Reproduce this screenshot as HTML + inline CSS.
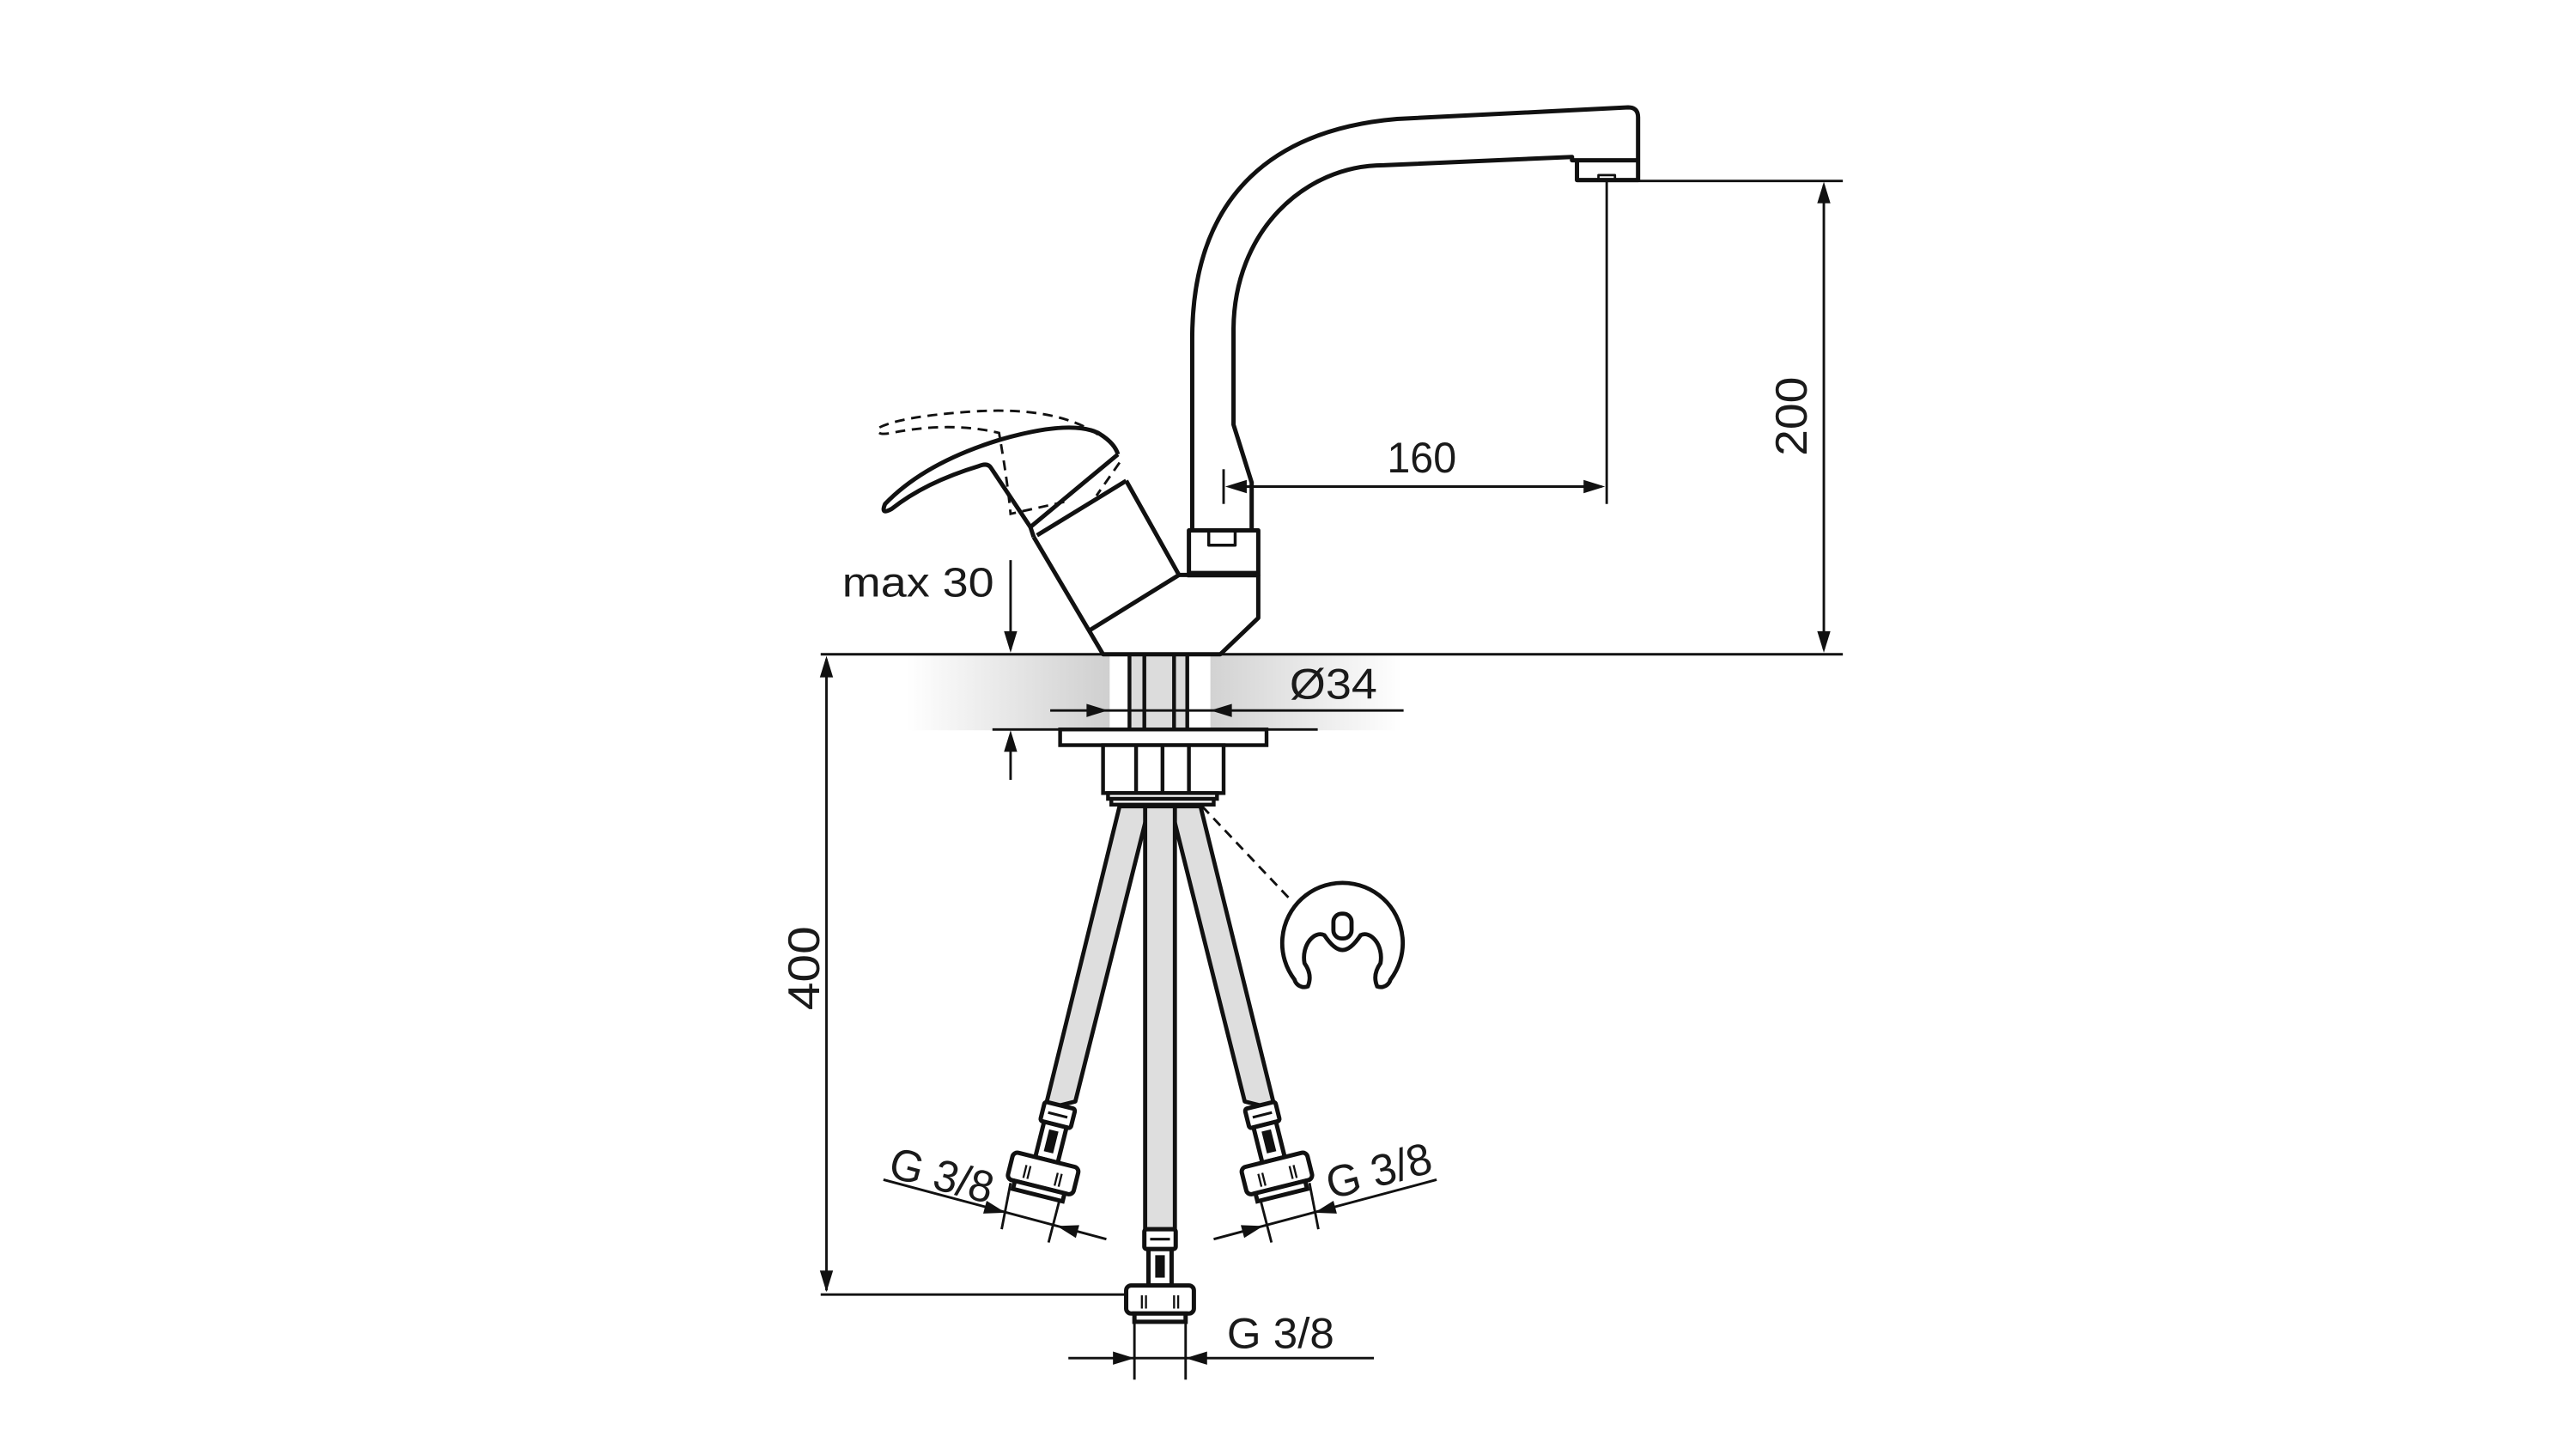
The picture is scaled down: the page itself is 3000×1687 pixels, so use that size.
<!DOCTYPE html>
<html><head><meta charset="utf-8"><style>
html,body{margin:0;padding:0;background:#fff;}
svg{display:block;}
text{font-family:"Liberation Sans",sans-serif;fill:#1a1a1a;}
</style></head><body>
<svg width="3000" height="1687" viewBox="0 0 1560 877" preserveAspectRatio="none" xmlns="http://www.w3.org/2000/svg">
<defs>
<linearGradient id="gl" x1="0" y1="0" x2="1" y2="0"><stop offset="0" stop-color="#fff"/><stop offset="1" stop-color="#cfcfcf"/></linearGradient>
<linearGradient id="gr" x1="0" y1="0" x2="1" y2="0"><stop offset="0" stop-color="#d2d2d2"/><stop offset="1" stop-color="#fff"/></linearGradient>
<g id="conn" stroke="#111" stroke-width="2.6" fill="#fff">
  <rect x="-9.5" y="0" width="19" height="12" rx="1.5"/>
  <line x1="-6" y1="6" x2="6" y2="6" stroke-width="1.6"/>
  <path d="M-7,12 L-7,34 L7,34 L7,12 Z"/>
  <rect x="-1.6" y="17" width="3.2" height="11" fill="#111"/>
  <rect x="-20.5" y="34" width="41" height="17" rx="3"/>
  <line x1="-11" y1="40" x2="-11" y2="48" stroke-width="1.2"/><line x1="-8.5" y1="40" x2="-8.5" y2="48" stroke-width="1.2"/>
  <line x1="8.5" y1="40" x2="8.5" y2="48" stroke-width="1.2"/><line x1="11" y1="40" x2="11" y2="48" stroke-width="1.2"/>
  <rect x="-15.5" y="51" width="31" height="5"/>
</g>
</defs>

<rect x="549" y="396" width="123" height="46" fill="url(#gl)"/>
<rect x="683" y="396" width="37" height="46" fill="#dcdcdc"/>
<rect x="733" y="396" width="116" height="46" fill="url(#gr)"/>

<g stroke="#111" stroke-width="1.5" fill="none">
  <line x1="497" y1="396" x2="1116" y2="396"/>
  <line x1="601" y1="441.5" x2="798" y2="441.5"/>
  <line x1="955" y1="109.5" x2="1116" y2="109.5"/>
  <line x1="1104.5" y1="112" x2="1104.5" y2="393"/>
  <line x1="973" y1="110" x2="973" y2="305"/>
  <line x1="741" y1="284" x2="741" y2="305"/>
  <line x1="745" y1="294.5" x2="970" y2="294.5"/>
  <line x1="612" y1="339" x2="612" y2="393"/>
  <line x1="612" y1="445" x2="612" y2="472"/>
  <line x1="636" y1="430" x2="850" y2="430"/>
  <line x1="500.5" y1="399" x2="500.5" y2="781"/>
  <line x1="497" y1="783.5" x2="690" y2="783.5"/>
  <line x1="687" y1="800" x2="687" y2="835"/>
  <line x1="718" y1="800" x2="718" y2="835"/>
  <line x1="647" y1="822" x2="832" y2="822"/>
  <line x1="612" y1="716" x2="606.6" y2="744"/>
  <line x1="643" y1="721" x2="635" y2="752"/>
  <line x1="535" y1="714" x2="670" y2="750"/>
  <line x1="793" y1="716" x2="798.4" y2="744"/>
  <line x1="762" y1="721" x2="770" y2="752"/>
  <line x1="870" y1="714" x2="735" y2="750"/>
  <line x1="728" y1="488" x2="781" y2="544" stroke-dasharray="6,4"/>
</g>

<g fill="#111">
  <path d="M1104.5,110 l-4,13 h8 z"/>
  <path d="M1104.5,395 l-4,-13 h8 z"/>
  <path d="M742,294.5 l13,-4 v8 z"/>
  <path d="M972,294.5 l-13,-4 v8 z"/>
  <path d="M612,395 l-4,-13 h8 z"/>
  <path d="M612,442 l-4,13 h8 z"/>
  <path d="M671,430 l-13,-4 v8 z"/>
  <path d="M733,430 l13,-4 v8 z"/>
  <path d="M500.5,397 l-4,13 h8 z"/>
  <path d="M500.5,782 l-4,-13 h8 z"/>
  <path d="M687,822 l-13,-4 v8 z"/>
  <path d="M718,822 l13,-4 v8 z"/>
  <g transform="translate(609,734) rotate(15)"><path d="M0,0 l-13,-4 v8 z"/></g>
  <g transform="translate(640,742) rotate(15)"><path d="M0,0 l13,-4 v8 z"/></g>
  <g transform="translate(796,734) rotate(-15)"><path d="M0,0 l13,-4 v8 z"/></g>
  <g transform="translate(765,742) rotate(-15)"><path d="M0,0 l-13,-4 v8 z"/></g>
</g>

<g stroke="#111" stroke-width="2.6" fill="none" stroke-linejoin="round">
  <path d="M722,320 L722,205 C722,115 775,78 846,72 L986,65 Q992,65 992,71 L992,109 L955,109 L955,97"/>
  <path d="M758,320 L758,292 L747,257 L747,200 C747,140 790,100 838,100 L952,95 L952,97 L992,97"/>
  <rect x="968" y="106" width="10" height="3" stroke-width="1.4"/>
  <rect x="720" y="321" width="42" height="27"/>
  <path d="M732,321 v9 h16 v-9" stroke-width="1.8"/>
  <line x1="719" y1="347.5" x2="763" y2="347.5" stroke-width="4"/>
  <path d="M762,348 L762,374 L739,396 L668,396 L626,325"/>
  <path d="M682,291 L714,348 L762,348"/>
  <line x1="659" y1="382" x2="714" y2="348"/>
  <line x1="624" y1="319" x2="677" y2="275"/>
  <line x1="628" y1="324" x2="682" y2="291"/>
  <line x1="626" y1="325" x2="624" y2="319"/>
  <path d="M624,319 L600,283 Q598,280 593,282 Q560,292 540,308 Q533,312 536,305 Q560,280 606,266 Q648,254 665,262 Q675,268 677,275"/>
</g>
<g stroke="#111" stroke-width="1.5" fill="none" stroke-dasharray="6,4">
  <path d="M665,263 Q640,246 590,249 Q545,252 532,259 Q530,264 540,262 Q575,255 605,262 Q610,290 612,311 Q630,307 648,303"/>
  <path d="M678,280 L664,300"/>
</g>

<g stroke="#111" stroke-width="2.3" fill="none">
  <line x1="684" y1="396" x2="684" y2="441"/>
  <line x1="693" y1="396" x2="693" y2="441"/>
  <line x1="711" y1="396" x2="711" y2="441"/>
  <line x1="719" y1="396" x2="719" y2="441"/>
  <rect x="642" y="441.5" width="125" height="9.5" fill="#fff"/>
  <rect x="668" y="451" width="73" height="29" fill="#fff"/>
  <line x1="688" y1="451" x2="688" y2="480"/>
  <line x1="704" y1="451" x2="704" y2="480"/>
  <line x1="720" y1="451" x2="720" y2="480"/>
  <rect x="671" y="480" width="66" height="3.5" fill="#fff"/>
  <rect x="673" y="483.5" width="62" height="3.5" fill="#fff"/>
</g>

<g stroke="#111" stroke-width="2.5" fill="#dedede" stroke-linejoin="round">
  <path d="M678,488 L696,488 L651.2,666.7 L632.8,671.3 Z"/>
  <path d="M727,488 L709,488 L753.8,666.7 L772.2,671.3 Z"/>
  <rect x="693.5" y="488" width="18" height="256"/>
</g>
<use href="#conn" transform="translate(642,669) rotate(14)"/>
<use href="#conn" transform="translate(763,669) rotate(-14)"/>
<use href="#conn" transform="translate(702.5,744)"/>

<path d="M784,593 A36.5,36.5 0 1 1 842,593 A6,6 0 0 1 834,597 Q831,590 836,583 C838,572 830,563 824,566 Q818,575 813,575 Q808,575 802,566 C796,563 788,572 790,583 Q795,590 792,597 A6,6 0 0 1 784,593 Z" fill="none" stroke="#111" stroke-width="2.5"/>
<rect x="807.5" y="553" width="11" height="15" rx="5" fill="none" stroke="#111" stroke-width="2.5"/>

<text x="510" y="361" font-size="25" textLength="92" lengthAdjust="spacingAndGlyphs">max 30</text>
<text x="840" y="286" font-size="26" textLength="42" lengthAdjust="spacingAndGlyphs">160</text>
<text x="781" y="423" font-size="26" textLength="53" lengthAdjust="spacingAndGlyphs">Ø34</text>
<text transform="translate(1094,252) rotate(-90)" text-anchor="middle" font-size="27" textLength="48" lengthAdjust="spacingAndGlyphs">200</text>
<text transform="translate(496,586) rotate(-90)" text-anchor="middle" font-size="27" textLength="51" lengthAdjust="spacingAndGlyphs">400</text>
<text x="743" y="816" font-size="26" textLength="65" lengthAdjust="spacingAndGlyphs">G 3/8</text>
<text transform="translate(537,712) rotate(15)" font-size="27" textLength="64" lengthAdjust="spacingAndGlyphs">G 3/8</text>
<text transform="translate(806,726) rotate(-15)" font-size="27" textLength="65" lengthAdjust="spacingAndGlyphs">G 3/8</text>
</svg>
</body></html>
